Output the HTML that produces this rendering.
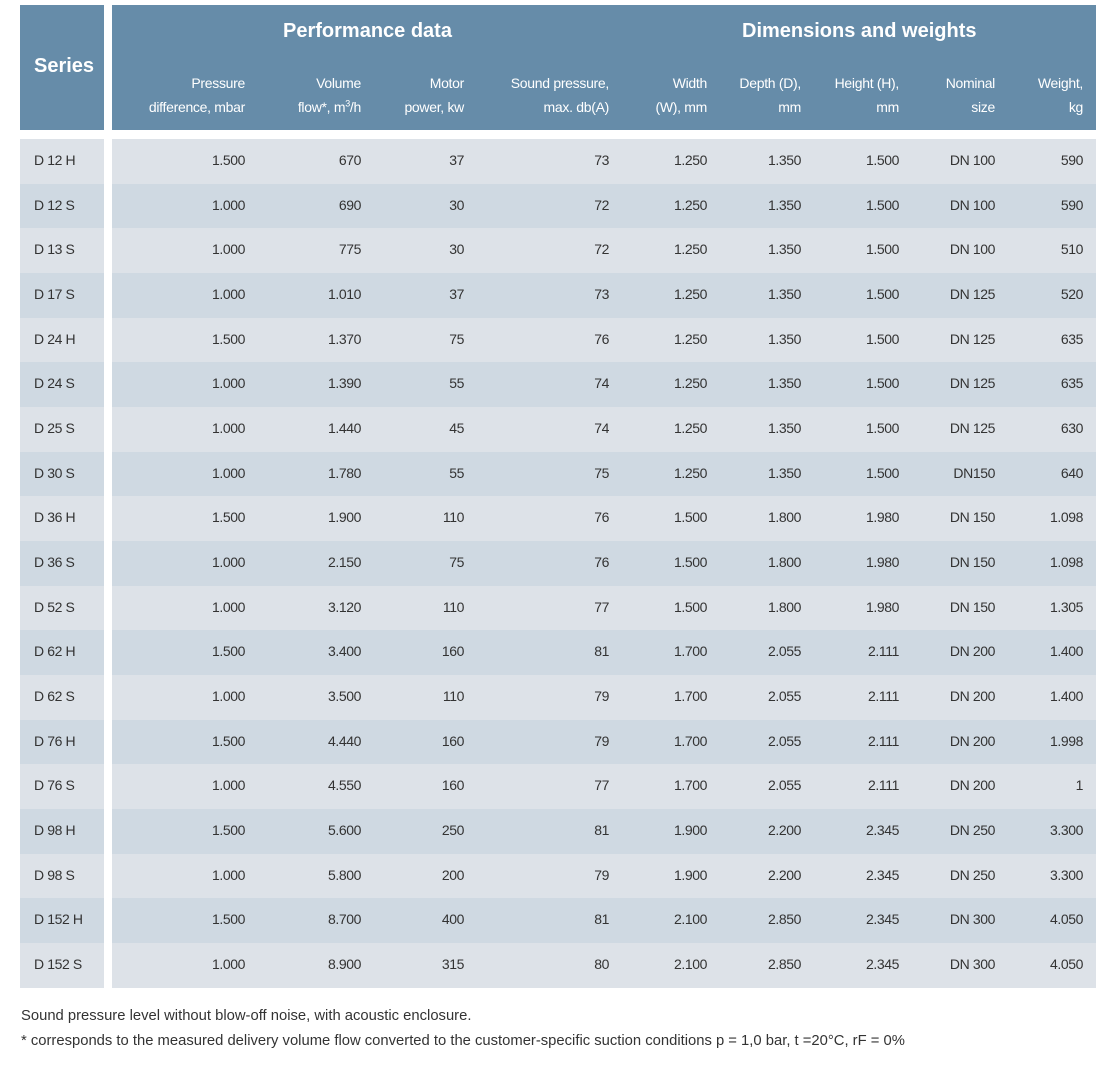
<!DOCTYPE html>
<html><head><meta charset="utf-8"><style>
body{margin:0;width:1115px;height:1085px;background:#fff;font-family:"Liberation Sans",sans-serif;color:#333;position:relative;overflow:hidden}
.hs{position:absolute;top:5px;height:125px;background:#668ca9;color:#fff}
.t{position:absolute;font-weight:bold;font-size:20px;white-space:nowrap}
.h{position:absolute;top:71px;font-size:14px;line-height:24px;text-align:right;white-space:nowrap;color:#fff;letter-spacing:-0.3px}
.rows{position:absolute;top:139px;left:0;width:1115px}
.r{height:44.68px;position:relative;font-size:14px;letter-spacing:-0.4px}
.r .a{position:absolute;left:20px;width:84px;height:100%}
.r .b{position:absolute;left:112px;width:984px;height:100%}
.r span{position:absolute;top:-1px;line-height:44.68px;white-space:nowrap}
.r:nth-child(odd) .a,.r:nth-child(odd) .b{background:#dde2e8}
.r:nth-child(even) .a,.r:nth-child(even) .b{background:#cfd9e2}
.foot{position:absolute;left:21px;font-size:14.8px;color:#333}
</style></head><body>
<div class="hs" style="left:20px;width:84px"></div>
<div class="hs" style="left:112px;width:984px"></div>
<div class="t" style="left:34px;top:55px;color:#fff">Series</div>
<div class="t" style="left:283px;top:20px;color:#fff">Performance data</div>
<div class="t" style="left:742px;top:20px;color:#fff">Dimensions and weights</div>
<div class="h" style="right:870px">Pressure<br>difference, mbar</div>
<div class="h" style="right:754px">Volume<br>flow*, m<sup style="font-size:9px;line-height:0">3</sup>/h</div>
<div class="h" style="right:651px">Motor<br>power, kw</div>
<div class="h" style="right:506px">Sound pressure,<br>max. db(A)</div>
<div class="h" style="right:408px">Width<br>(W), mm</div>
<div class="h" style="right:314px">Depth (D),<br>mm</div>
<div class="h" style="right:216px">Height (H),<br>mm</div>
<div class="h" style="right:120px">Nominal<br>size</div>
<div class="h" style="right:32px">Weight,<br>kg</div>
<div class="rows" id="rows"></div>
<div class="foot" style="top:1008px">Sound pressure level without blow-off noise, with acoustic enclosure.</div>
<div class="foot" style="top:1033px">* corresponds to the measured delivery volume flow converted to the customer-specific suction conditions p = 1,0 bar, t =20°C, rF = 0%</div>
<script>
var d=[
["D 12 H","1.500","670","37","73","1.250","1.350","1.500","DN 100","590"],
["D 12 S","1.000","690","30","72","1.250","1.350","1.500","DN 100","590"],
["D 13 S","1.000","775","30","72","1.250","1.350","1.500","DN 100","510"],
["D 17 S","1.000","1.010","37","73","1.250","1.350","1.500","DN 125","520"],
["D 24 H","1.500","1.370","75","76","1.250","1.350","1.500","DN 125","635"],
["D 24 S","1.000","1.390","55","74","1.250","1.350","1.500","DN 125","635"],
["D 25 S","1.000","1.440","45","74","1.250","1.350","1.500","DN 125","630"],
["D 30 S","1.000","1.780","55","75","1.250","1.350","1.500","DN150","640"],
["D 36 H","1.500","1.900","110","76","1.500","1.800","1.980","DN 150","1.098"],
["D 36 S","1.000","2.150","75","76","1.500","1.800","1.980","DN 150","1.098"],
["D 52 S","1.000","3.120","110","77","1.500","1.800","1.980","DN 150","1.305"],
["D 62 H","1.500","3.400","160","81","1.700","2.055","2.111","DN 200","1.400"],
["D 62 S","1.000","3.500","110","79","1.700","2.055","2.111","DN 200","1.400"],
["D 76 H","1.500","4.440","160","79","1.700","2.055","2.111","DN 200","1.998"],
["D 76 S","1.000","4.550","160","77","1.700","2.055","2.111","DN 200","1"],
["D 98 H","1.500","5.600","250","81","1.900","2.200","2.345","DN 250","3.300"],
["D 98 S","1.000","5.800","200","79","1.900","2.200","2.345","DN 250","3.300"],
["D 152 H","1.500","8.700","400","81","2.100","2.850","2.345","DN 300","4.050"],
["D 152 S","1.000","8.900","315","80","2.100","2.850","2.345","DN 300","4.050"]];
var R=[245,361,464,609,707,801,899,995,1083],h="";
d.forEach(function(r){h+='<div class="r"><div class="a"><span style="left:14px">'+r[0]+'</span></div><div class="b">';
for(var i=0;i<9;i++)h+='<span style="right:'+(1096-R[i])+'px">'+r[i+1]+'</span>';
h+='</div></div>';});
document.getElementById("rows").innerHTML=h;
</script>
</body></html>
